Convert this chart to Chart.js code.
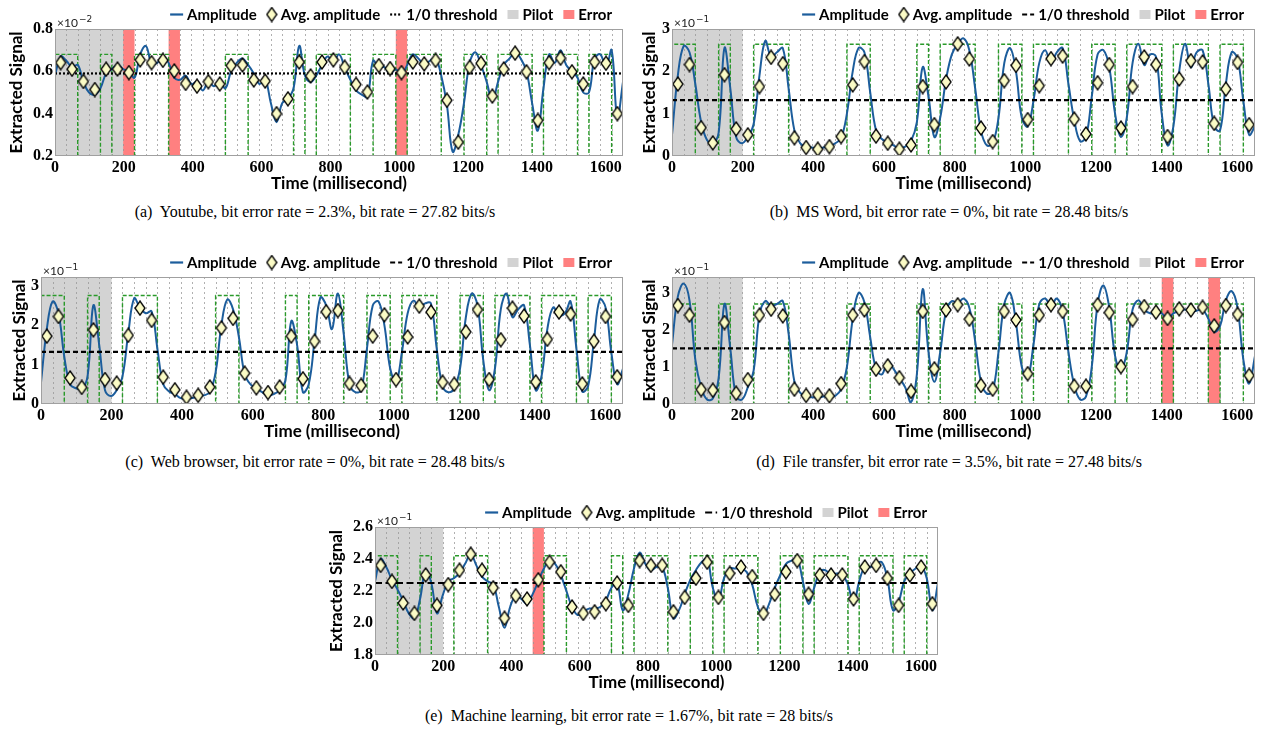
<!DOCTYPE html>
<html>
<head>
<meta charset="utf-8">
<script src="https://cdn.jsdelivr.net/npm/chart.js@4.4.1/dist/chart.umd.min.js"></script>
<style>
  body { margin: 0; background: #fff; width: 1262px; height: 736px; position: relative; overflow: hidden; }
  .panel { position: absolute; }
  .cap { position: absolute; font: 16px 'Liberation Serif', serif; white-space: pre; text-align: center; line-height: 20px; color: #000; }
</style>
</head>
<body>
<div class="panel" style="left:0;top:0"><canvas id="chart-a" width="630" height="196"></canvas></div>
<div class="panel" style="left:630px;top:0"><canvas id="chart-b" width="632" height="196"></canvas></div>
<div class="panel" style="left:0;top:248px"><canvas id="chart-c" width="630" height="196"></canvas></div>
<div class="panel" style="left:630px;top:248px"><canvas id="chart-d" width="632" height="196"></canvas></div>
<div class="panel" style="left:320px;top:498px"><canvas id="chart-e" width="630" height="197"></canvas></div>

<div class="cap" style="left:0;width:630px;top:202px">(a)  Youtube, bit error rate = 2.3%, bit rate = 27.82 bits/s</div>
<div class="cap" style="left:634px;width:630px;top:202px">(b)  MS Word, bit error rate = 0%, bit rate = 28.48 bits/s</div>
<div class="cap" style="left:0;width:630px;top:452px">(c)  Web browser, bit error rate = 0%, bit rate = 28.48 bits/s</div>
<div class="cap" style="left:634px;width:630px;top:452px">(d)  File transfer, bit error rate = 3.5%, bit rate = 27.48 bits/s</div>
<div class="cap" style="left:314px;width:630px;top:706px">(e)  Machine learning, bit error rate = 1.67%, bit rate = 28 bits/s</div>

<script>
/* shared timing: one bit every 33 ms, first 200 ms are the pilot */
const BIT_MS = 33;
const X_MAX = 1650;
const PILOT_END = 200;
const X_TICKS = [0, 200, 400, 600, 800, 1000, 1200, 1400, 1600];
const LEGEND_LABELS = ['Amplitude', 'Avg. amplitude', '1/0 threshold', 'Pilot', 'Error'];

// transmitted bits (green boxes), same for every panel
const BITS = [1,1,0,0,1,0,0,1,1,1, 0,0,0,0,0,1,1,0,0,0,
              0,1,0,1,1,1,0,0,1,1, 0,1,1,1,0,0,1,1,0,1,
              1,1,0,1,1,1,0,1,1,0];

/* (a) Youtube - amplitude sampled every half bit (16.5 ms), avg per bit */
const AMP_A = [0.58,0.67,0.65,0.62,0.63,0.55,0.50,0.49,0.52,0.59,
               0.61,0.63,0.61,0.60,0.57,0.68,0.72,0.64,0.64,0.67,
               0.64,0.57,0.56,0.58,0.54,0.55,0.51,0.55,0.53,0.55,
               0.52,0.60,0.64,0.66,0.63,0.59,0.54,0.56,0.45,0.36,
               0.45,0.47,0.52,0.72,0.58,0.55,0.58,0.63,0.67,0.64,
               0.68,0.62,0.56,0.51,0.49,0.48,0.65,0.62,0.62,0.59,
               0.61,0.58,0.63,0.68,0.66,0.63,0.65,0.66,0.58,0.44,
               0.22,0.30,0.45,0.64,0.69,0.63,0.55,0.46,0.55,0.63,
               0.66,0.69,0.66,0.60,0.45,0.32,0.52,0.68,0.64,0.70,
               0.63,0.60,0.57,0.50,0.50,0.66,0.68,0.62,0.70,0.38,
               0.55];
const AVG_A = [0.641,0.61,0.552,0.514,0.61,0.611,0.594,0.654,0.641,0.652,
               0.602,0.543,0.53,0.551,0.54,0.627,0.63,0.559,0.554,0.40,
               0.47,0.644,0.578,0.644,0.654,0.619,0.538,0.502,0.627,0.613,
               0.594,0.644,0.635,0.652,0.463,0.265,0.619,0.638,0.483,0.611,
               0.686,0.598,0.368,0.641,0.662,0.598,0.54,0.644,0.638,0.40];
const Y_TICKS_A = [0.2, 0.4, 0.6, 0.8];
const THR_A = 0.59;
const HIGH_A = 0.68;
const ERR_A = [6, 10, 30];

/* (b) MS Word */
const AMP_B = [0.5,1.9,2.6,2.45,1.7,0.8,0.38,0.3,0.55,2.55,
               1.6,0.45,0.3,0.45,0.75,1.9,2.72,2.35,2.45,2.55,
               1.6,0.6,0.3,0.22,0.2,0.18,0.2,0.22,0.3,0.42,
               1.0,2.0,2.55,2.45,1.5,0.6,0.4,0.32,0.25,0.18,
               0.22,0.35,0.8,2.1,1.4,0.45,0.9,1.8,2.4,2.65,
               2.78,2.5,1.6,0.6,0.25,0.3,0.9,2.2,2.55,2.0,
               0.9,0.7,1.3,2.2,2.5,2.2,2.45,2.55,1.7,0.85,
               0.35,0.45,1.4,2.4,2.5,2.1,1.0,0.45,0.9,2.2,
               2.65,2.15,2.4,2.35,1.0,0.25,0.7,2.0,2.65,2.1,
               2.45,2.5,1.7,0.7,0.6,1.7,2.45,2.3,1.3,0.5,
               0.7];
const AVG_B = [1.70,2.16,0.67,0.31,1.92,0.64,0.50,1.64,2.33,2.18,
               0.43,0.20,0.16,0.22,0.46,1.68,2.23,0.47,0.30,0.16,
               0.26,1.64,0.74,1.75,2.65,2.29,0.66,0.34,1.78,2.14,
               0.86,1.66,2.30,2.36,0.87,0.52,1.73,2.16,0.66,1.64,
               2.34,2.16,0.46,1.82,2.25,2.22,0.77,1.58,2.21,0.74];
const Y_TICKS_B = [0, 1, 2, 3];
const THR_B = 1.32;
const HIGH_B = 2.64;
const ERR_B = [];

/* (c) Web browser */
const AMP_C = [0.55,1.9,2.6,2.3,1.2,0.5,0.4,0.38,0.7,2.5,
               1.5,0.35,0.2,0.35,0.7,1.8,2.68,2.45,2.3,2.35,
               1.4,0.5,0.32,0.25,0.15,0.13,0.15,0.2,0.22,0.3,
               0.8,2.0,2.65,2.4,1.7,0.75,0.5,0.4,0.3,0.22,
               0.25,0.35,0.6,2.1,1.5,0.3,0.5,1.6,2.7,2.5,
               1.9,2.8,1.8,0.5,0.3,0.35,1.4,2.5,2.6,2.0,
               0.9,0.55,1.3,2.3,2.62,2.45,2.55,2.55,1.4,0.45,
               0.3,0.4,0.9,2.2,2.8,2.5,1.1,0.35,0.9,2.4,
               2.8,2.2,2.4,2.5,1.5,0.35,0.7,1.9,2.45,2.25,
               2.3,2.6,1.4,0.32,0.45,1.6,2.65,2.45,1.3,0.5,
               0.9];
const AVG_C = [1.72,2.22,0.66,0.42,1.88,0.62,0.53,1.74,2.43,2.12,
               0.68,0.36,0.17,0.22,0.43,1.93,2.17,0.78,0.41,0.29,
               0.43,1.72,0.64,1.59,2.34,2.37,0.52,0.47,1.72,2.26,
               0.62,1.70,2.48,2.33,0.55,0.50,1.83,2.39,0.62,1.63,
               2.43,2.23,0.56,1.64,2.33,2.28,0.51,1.59,2.22,0.69];
const Y_TICKS_C = [0, 1, 2, 3];
const THR_C = 1.32;
const HIGH_C = 2.75;
const ERR_C = [];

/* (d) File transfer */
const AMP_D = [1.6,2.9,3.25,2.8,1.2,0.45,0.12,0.15,0.7,2.7,
               1.5,0.2,0.12,0.45,0.9,2.4,2.78,2.65,2.7,2.78,
               1.9,0.6,0.3,0.2,0.18,0.18,0.2,0.2,0.22,0.4,
               1.0,2.3,3.0,2.75,1.8,0.95,0.8,1.15,0.95,0.7,
               0.45,0.05,0.8,3.1,1.4,0.6,1.4,2.5,2.78,2.72,
               2.85,2.6,1.7,0.6,0.28,0.35,1.4,2.7,3.0,2.2,
               1.0,0.7,1.6,2.7,2.85,2.65,2.85,2.5,1.4,0.5,
               0.12,0.2,1.0,2.7,3.2,2.6,1.3,0.9,1.4,2.55,
               2.8,2.55,2.45,2.45,2.45,2.3,2.45,2.5,2.55,2.5,
               2.52,2.55,2.3,1.95,2.1,2.8,3.05,2.6,1.2,0.55,
               1.3];
const AVG_D = [2.66,2.40,0.39,0.37,2.20,0.29,0.66,2.40,2.56,2.38,
               0.40,0.23,0.25,0.22,0.55,2.40,2.54,0.94,1.03,0.71,
               0.34,2.50,0.95,2.54,2.68,2.29,0.50,0.40,2.50,2.27,
               0.82,2.40,2.68,2.50,0.48,0.48,2.68,2.47,1.01,2.28,
               2.63,2.48,2.31,2.57,2.54,2.61,2.11,2.66,2.42,0.77];
const Y_TICKS_D = [0, 1, 2, 3];
const THR_D = 1.5;
const HIGH_D = 2.7;
const ERR_D = [42, 46];

/* (e) Machine learning */
const AMP_E = [2.26,2.40,2.35,2.27,2.21,2.14,2.06,2.03,2.15,2.33,
               2.25,2.06,2.17,2.26,2.28,2.31,2.37,2.43,2.36,2.29,
               2.26,2.24,2.10,1.97,2.10,2.17,2.15,2.12,2.18,2.26,
               2.34,2.39,2.37,2.30,2.20,2.10,2.05,2.07,2.09,2.09,
               2.10,2.14,2.22,2.25,2.08,2.18,2.34,2.44,2.37,2.33,
               2.35,2.35,2.22,2.03,2.08,2.18,2.27,2.33,2.38,2.40,
               2.22,2.14,2.28,2.34,2.34,2.34,2.32,2.24,2.10,2.05,
               2.12,2.22,2.30,2.37,2.39,2.40,2.26,2.12,2.22,2.32,
               2.33,2.30,2.31,2.30,2.24,2.12,2.26,2.35,2.35,2.37,
               2.38,2.28,2.08,2.13,2.26,2.31,2.34,2.36,2.28,2.08,
               2.25];
const AVG_E = [2.36,2.26,2.125,2.06,2.30,2.11,2.24,2.33,2.43,2.33,
               2.22,2.03,2.17,2.15,2.27,2.38,2.32,2.10,2.06,2.07,
               2.12,2.25,2.11,2.39,2.36,2.36,2.07,2.16,2.28,2.38,
               2.16,2.31,2.35,2.29,2.06,2.18,2.32,2.39,2.18,2.30,
               2.30,2.30,2.15,2.35,2.36,2.28,2.11,2.30,2.35,2.12];
const Y_TICKS_E = [1.8, 2.0, 2.2, 2.4, 2.6];
const THR_E = 2.25;
const HIGH_E = 2.42;
const ERR_E = [14];

/* colours */
const BLUE = '#1c5d9c';
const GREEN = '#2a9a2a';
const PILOT_GRAY = '#d3d3d3';
const ERROR_RED = '#ff8080';
const LEGEND_FONT = 'bold 15px Lato';

// tall diamond marker like matplotlib 'd'
function diamond(w, h) {
    const c = document.createElement('canvas');
    c.width = w + 2;
    c.height = h + 2;
    const g = c.getContext('2d');
    g.beginPath();
    g.moveTo(c.width / 2, 1);
    g.lineTo(c.width - 1, c.height / 2);
    g.lineTo(c.width / 2, c.height - 1);
    g.lineTo(1, c.height / 2);
    g.closePath();
    g.fillStyle = '#fbfbc6';
    g.fill();
    g.lineWidth = 1.3;
    g.strokeStyle = '#000';
    g.stroke();
    return c;
}
const DIAMOND = diamond(10, 14);

function stepBox(high, low) {
    const pts = [{x: 0, y: low}];
    BITS.forEach((b, k) => pts.push({x: k * BIT_MS, y: b ? high : low}));
    pts.push({x: BITS.length * BIT_MS, y: BITS[BITS.length - 1] ? high : low});
    return pts;
}

const bitDecor = {
    id: 'bitDecor',
    beforeDatasetsDraw(chart, args, o) {
        const {ctx, chartArea: a, scales: {x}} = chart;
        ctx.save();
        // pilot + error bands
        ctx.fillStyle = PILOT_GRAY;
        const p0 = x.getPixelForValue(0), p1 = x.getPixelForValue(PILOT_END);
        ctx.fillRect(p0, a.top, p1 - p0, a.bottom - a.top);
        ctx.fillStyle = ERROR_RED;
        o.errors.forEach(k => {
            const l = x.getPixelForValue(k * BIT_MS), r = x.getPixelForValue((k + 1) * BIT_MS);
            ctx.fillRect(l, a.top, r - l, a.bottom - a.top);
        });
        // dotted bit boundaries
        ctx.strokeStyle = 'rgba(150,150,150,0.75)';
        ctx.lineWidth = 1;
        ctx.setLineDash([2, 3]);
        for (let k = 1; k < BITS.length; k++) {
            const px = Math.round(x.getPixelForValue(k * BIT_MS)) + 0.5;
            ctx.beginPath();
            ctx.moveTo(px, a.top);
            ctx.lineTo(px, a.bottom);
            ctx.stroke();
        }
        ctx.restore();
    },
    afterDraw(chart, args, o) {
        const {ctx, chartArea: a} = chart;
        ctx.save();
        // frame
        ctx.strokeStyle = '#a0a0a0';
        ctx.lineWidth = 1;
        ctx.strokeRect(Math.round(a.left) + 0.5, Math.round(a.top) + 0.5,
                       Math.round(a.right - a.left) - 1, Math.round(a.bottom - a.top) - 1);

        // exponent above the y axis
        ctx.fillStyle = '#222';
        ctx.textBaseline = 'alphabetic';
        ctx.textAlign = 'left';
        ctx.font = '12px Lato';
        ctx.fillText('\u00d710', a.left + 2, a.top - 2);
        const w = ctx.measureText('\u00d710').width;
        ctx.font = '9px "DejaVu Sans"';
        ctx.fillText('\u2212' + o.exp, a.left + 3 + w, a.top - 7);

        // legend, right aligned over the plot
        ctx.font = LEGEND_FONT;
        const hw = [13, 10, 12, 11, 11];
        const widths = LEGEND_LABELS.map(t => ctx.measureText(t).width);
        let total = 0;
        widths.forEach((tw, i) => { total += hw[i] + 4 + tw; });
        total += 10 * (LEGEND_LABELS.length - 1);
        let x = a.right - 11 - total;
        const y = 14.5;
        LEGEND_LABELS.forEach((label, i) => {
            if (i === 0) {
                ctx.strokeStyle = BLUE; ctx.lineWidth = 2.2; ctx.setLineDash([]);
                ctx.beginPath(); ctx.moveTo(x, y); ctx.lineTo(x + hw[i], y); ctx.stroke();
            } else if (i === 1) {
                ctx.drawImage(DIAMOND, x + hw[i] / 2 - DIAMOND.width / 2, y - DIAMOND.height / 2);
            } else if (i === 2) {
                ctx.strokeStyle = '#000'; ctx.lineWidth = 2.2; ctx.setLineDash(o.dash);
                ctx.beginPath(); ctx.moveTo(x, y); ctx.lineTo(x + hw[i], y); ctx.stroke();
                ctx.setLineDash([]);
            } else {
                ctx.fillStyle = i === 3 ? PILOT_GRAY : ERROR_RED;
                ctx.fillRect(x, y - 4.5, hw[i], 9);
            }
            ctx.fillStyle = '#000';
            ctx.textBaseline = 'middle';
            ctx.fillText(label, x + hw[i] + 4, y + 0.5);
            x += hw[i] + 4 + widths[i] + 10;
        });
        ctx.restore();
    }
};

function makeChart(id, p) {
    const datasets = [
        {   // avg amplitude diamonds
            data: p.avg.map((v, k) => ({x: (k + 0.5) * BIT_MS, y: v})),
            showLine: false,
            pointStyle: DIAMOND,
            pointRadius: 6,
            order: 0
        },
        {   // threshold
            data: [{x: 0, y: p.thr}, {x: X_MAX, y: p.thr}],
            borderColor: '#000',
            borderWidth: 2.2,
            borderDash: p.dash,
            pointRadius: 0,
            order: 1
        },
        {   // amplitude
            data: p.amp.map((v, i) => ({x: i * BIT_MS / 2, y: v})),
            borderColor: BLUE,
            borderWidth: 2,
            tension: 0.4,
            pointRadius: 0,
            order: 2
        },
        {   // ground truth boxes
            data: stepBox(p.high, p.yMin),
            borderColor: GREEN,
            borderWidth: 1.4,
            borderDash: [4, 2],
            stepped: 'before',
            pointRadius: 0,
            order: 3
        }
    ];
    return new Chart(document.getElementById(id), {
        type: 'line',
        data: {datasets},
        options: {
            responsive: false,
            animation: false,
            events: [],
            layout: {padding: {left: 0, right: p.padRight, top: 29, bottom: 0}},
            scales: {
                x: {
                    type: 'linear',
                    min: 0,
                    max: X_MAX,
                    afterBuildTicks: s => { s.ticks = X_TICKS.map(v => ({value: v})); },
                    afterFit: s => { s.height = p.xh; },
                    grid: {display: false, drawTicks: false},
                    border: {display: false},
                    ticks: {
                        padding: 2, maxRotation: 0, autoSkip: false, color: '#000',
                        callback: v => String(v),
                        font: {family: 'Liberation Serif', weight: 'bold', size: 16}
                    },
                    title: {
                        display: true, text: 'Time (millisecond)', color: '#000',
                        font: {family: 'Lato', weight: 'bold', size: 17},
                        padding: {top: 0, bottom: 2}
                    }
                },
                y: {
                    type: 'linear',
                    min: p.yMin,
                    max: p.yMax,
                    afterBuildTicks: s => { s.ticks = p.yTicks.map(v => ({value: v})); },
                    afterFit: s => { s.width = p.yw; },
                    grid: {display: false, drawTicks: false},
                    border: {display: false},
                    ticks: {
                        padding: 2, color: '#000',
                        callback: v => v.toFixed(p.dec),
                        font: {family: 'Liberation Serif', weight: 'bold', size: 16}
                    },
                    title: {
                        display: true, text: 'Extracted Signal', color: '#000',
                        font: {family: 'Lato', weight: 'bold', size: 17},
                        padding: {top: p.titlePad, bottom: 0}
                    }
                }
            },
            plugins: {
                legend: {display: false},
                tooltip: {enabled: false},
                bitDecor: {errors: p.errors, exp: p.exp, dash: p.dash}
            }
        },
        plugins: [bitDecor]
    });
}

makeChart('chart-a', {amp: AMP_A, avg: AVG_A, yTicks: Y_TICKS_A, thr: THR_A, high: HIGH_A, errors: ERR_A,
    yMin: 0.2, yMax: 0.8, dec: 1, exp: '2', dash: [2, 2], yw: 55, titlePad: 6, padRight: 7, xh: 40});
makeChart('chart-b', {amp: AMP_B, avg: AVG_B, yTicks: Y_TICKS_B, thr: THR_B, high: HIGH_B, errors: ERR_B,
    yMin: 0, yMax: 3, dec: 0, exp: '1', dash: [5, 3], yw: 42, titlePad: 9, padRight: 7, xh: 40});
makeChart('chart-c', {amp: AMP_C, avg: AVG_C, yTicks: Y_TICKS_C, thr: THR_C, high: HIGH_C, errors: ERR_C,
    yMin: 0, yMax: 3.22, dec: 0, exp: '1', dash: [5, 3], yw: 41, titlePad: 9, padRight: 7, xh: 40});
makeChart('chart-d', {amp: AMP_D, avg: AVG_D, yTicks: Y_TICKS_D, thr: THR_D, high: HIGH_D, errors: ERR_D,
    yMin: 0, yMax: 3.43, dec: 0, exp: '1', dash: [5, 3], yw: 42, titlePad: 9, padRight: 7, xh: 40});
makeChart('chart-e', {amp: AMP_E, avg: AVG_E, yTicks: Y_TICKS_E, thr: THR_E, high: HIGH_E, errors: ERR_E,
    yMin: 1.8, yMax: 2.6, dec: 1, exp: '1', dash: [7, 3.5], yw: 55, titlePad: 6, padRight: 12, xh: 40});
</script>
</body>
</html>
